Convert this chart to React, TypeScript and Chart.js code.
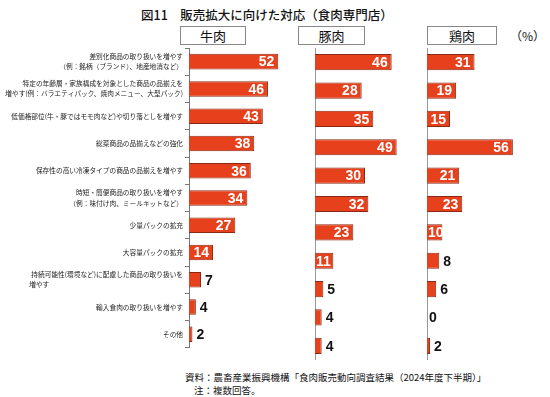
import React, { useEffect, useRef } from "react";
import { Chart, registerables } from "chart.js";

Chart.register(...registerables);

const title = "図11　販売拡大に向けた対応（食肉専門店）";
const panelTitles = ["牛肉", "豚肉", "鶏肉"];
const unitLabel = "（%）";
const sourceNote = "資料：農畜産業振興機構「食肉販売動向調査結果（2024年度下半期）」";
const note = "注：複数回答。";

const categories: (string | string[])[] = [
  ["差別化商品の取り扱いを増やす", "（例：銘柄（ブランド）、地産地消など）"],
  ["特定の年齢層・家族構成を対象とした商品の品揃えを", "増やす(例：バラエティパック、焼肉メニュー、大型パック)"],
  "低価格部位(牛・豚ではモモ肉など)や切り落としを増やす",
  "総菜商品の品揃えなどの強化",
  "保存性の高い冷凍タイプの商品の品揃えを増やす",
  ["時短・簡便商品の取り扱いを増やす", "（例：味付け肉、ミールキットなど）"],
  "少量パックの拡充",
  "大容量パックの拡充",
  ["持続可能性(環境など)に配慮した商品の取り扱いを", "増やす\u3000\u3000\u3000\u3000\u3000\u3000\u3000\u3000\u3000\u3000\u3000\u3000\u3000\u3000\u3000\u3000\u3000\u3000\u3000\u3000"],
  "輸入食肉の取り扱いを増やす",
  "その他",
];

const beef = [52, 46, 43, 38, 36, 34, 27, 14, 7, 4, 2];
const pork = [46, 28, 35, 49, 30, 32, 23, 11, 5, 4, 4];
const chicken = [31, 19, 15, 56, 21, 23, 10, 8, 6, 0, 2];

const BAR_FILL = "#E6411C";
const BAR_BORDER = "#8A2A14";
const CJK = '"Noto Sans CJK JP", "Noto Sans", sans-serif';

const valueLabels = {
  id: "valueLabels",
  afterDatasetsDraw(chart: any) {
    const ctx = chart.ctx;
    const meta = chart.getDatasetMeta(0);
    const values = chart.data.datasets[0].data as number[];
    meta.data.forEach((bar: any, i: number) => {
      const v = values[i];
      const { x, y, base } = bar.getProps(["x", "y", "base"], true);
      ctx.save();
      ctx.font = 'bold 14px "Liberation Sans", Arial, sans-serif';
      ctx.textBaseline = "middle";
      const txt = String(v);
      const w = ctx.measureText(txt).width;
      if (v >= 10) {
        ctx.fillStyle = "#ffffff";
        ctx.textAlign = "left";
        const tx = Math.max(x - 4 - w, base + 1);
        ctx.fillText(txt, tx, y + 1);
      } else {
        ctx.fillStyle = "#111111";
        ctx.textAlign = "left";
        ctx.fillText(txt, x + (v === 0 ? 2 : 4), y + 1);
      }
      ctx.restore();
    });
  },
};

function makeChart(
  canvas: HTMLCanvasElement,
  data: number[],
  max: number,
  showLabels: boolean,
  yWidth: number,
  axisColor: string
) {
  return new Chart(canvas, {
    type: "bar",
    data: {
      labels: categories,
      datasets: [
        {
          data,
          backgroundColor: BAR_FILL,
          borderColor: BAR_BORDER,
          borderWidth: (c: any) => (c.raw === 0 ? 0 : 1),
          borderSkipped: "start",
          categoryPercentage: 1,
          barPercentage: 0.57,
        },
      ],
    },
    options: {
      indexAxis: "y",
      responsive: false,
      animation: false,
      layout: { padding: { top: 48, bottom: 0, left: 0, right: 0 } },
      plugins: {
        legend: { display: false },
        tooltip: { enabled: false },
        title: { display: false },
      },
      scales: {
        x: { display: false, min: 0, max },
        y: {
          display: true,
          afterFit: (scale: any) => {
            scale.width = yWidth;
          },
          border: { display: true, color: axisColor, width: 1 },
          grid: {
            display: showLabels,
            drawOnChartArea: false,
            drawTicks: showLabels,
            tickLength: 4,
            color: axisColor,
          },
          ticks: {
            display: showLabels,
            padding: 2,
            color: "#222",
            font: { family: CJK, size: 6.7, lineHeight: 1.5 },
            autoSkip: false,
          },
        },
      },
    } as any,
    plugins: [valueLabels],
  });
}

export default function App() {
  const refA = useRef<HTMLCanvasElement>(null);
  const refB = useRef<HTMLCanvasElement>(null);
  const refC = useRef<HTMLCanvasElement>(null);

  useEffect(() => {
    const charts = [
      makeChart(refA.current!, beef, 60, true, 189, "#777"),
      makeChart(refB.current!, pork, 60, false, 1, "#999"),
      makeChart(refC.current!, chicken, 60, false, 1, "#999"),
    ];
    return () => charts.forEach((c) => c.destroy());
  }, []);

  const boxStyle = (left: number, width: number): React.CSSProperties => ({
    position: "absolute",
    left,
    top: 26,
    width,
    height: 19,
    border: "1px solid #888",
    boxSizing: "border-box",
    fontFamily: CJK,
    fontSize: 13,
    lineHeight: "17px",
    textAlign: "center",
    color: "#111",
    background: "#fff",
  });

  return (
    <div
      style={{
        position: "fixed",
        left: 0,
        top: 0,
        width: 550,
        height: 397,
        background: "#fff",
        overflow: "hidden",
      }}
    >
      <div
        style={{
          position: "absolute",
          left: 0,
          top: 5,
          width: 534,
          textAlign: "center",
          fontFamily: CJK,
          fontSize: 12.5,
          fontWeight: 500,
          color: "#111",
        }}
      >
        {title}
      </div>
      <div style={boxStyle(180, 66)}>{panelTitles[0]}</div>
      <div style={boxStyle(298, 67)}>{panelTitles[1]}</div>
      <div style={boxStyle(427, 70)}>{panelTitles[2]}</div>
      <div
        style={{
          position: "absolute",
          left: 510,
          top: 27,
          fontFamily: CJK,
          fontSize: 12,
          color: "#111",
        }}
      >
        {unitLabel}
      </div>
      <canvas
        ref={refA}
        width={292}
        height={360}
        style={{ position: "absolute", left: 0, top: 0 }}
      />
      <canvas
        ref={refB}
        width={101}
        height={360}
        style={{ position: "absolute", left: 314, top: 0 }}
      />
      <canvas
        ref={refC}
        width={93}
        height={360}
        style={{ position: "absolute", left: 426, top: 0 }}
      />
      <div
        style={{
          position: "absolute",
          left: 185,
          top: 371,
          fontFamily: CJK,
          fontSize: 9.5,
          lineHeight: "13px",
          color: "#111",
          whiteSpace: "nowrap",
        }}
      >
        <div>{sourceNote}</div>
        <div style={{ paddingLeft: 9 }}>{note}</div>
      </div>
    </div>
  );
}
